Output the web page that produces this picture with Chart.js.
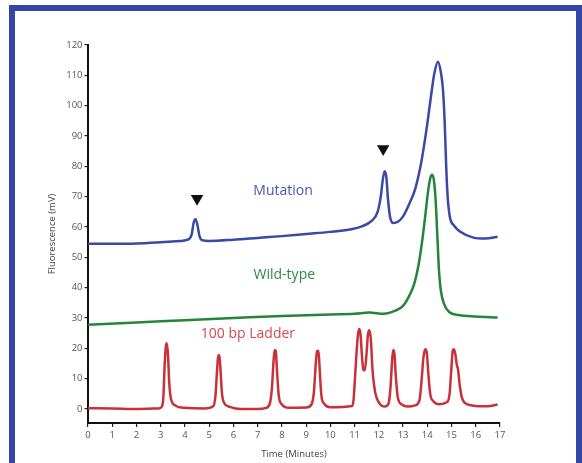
<!DOCTYPE html>
<html>
<head>
<meta charset="utf-8">
<script src="https://cdn.jsdelivr.net/npm/chart.js@4.4.1/dist/chart.umd.min.js"></script>
<style>
  html, body { margin: 0; padding: 0; background: #ffffff; }
  #frame { position: absolute; left: 9px; top: 5px; width: 561px; height: 480px; border: 6px solid #3346a6; background: #fff; }
  #c { position: absolute; left: 0; top: 0; }
</style>
</head>
<body>
<div id="frame"></div>
<canvas id="c" width="582" height="463"></canvas>
<script>
// ---- Data ----
const xTicks = [0,1,2,3,4,5,6,7,8,9,10,11,12,13,14,15,16,17];
const yTicks = [0,10,20,30,40,50,60,70,80,90,100,110,120];

const mutationTime   = [0,1,2,3,3.8,4.15,4.28,4.36,4.44,4.52,4.6,4.7,5,6,7,8,9,10,10.8,11.3,11.7,11.95,12.08,12.17,12.24,12.31,12.38,12.46,12.6,12.8,13.0,13.25,13.5,13.72,13.85,14.0,14.15,14.3,14.44,14.56,14.65,14.72,14.78,14.84,14.93,15.1,15.35,15.9,16.4,16.9];
const mutationSignal = [54.5,54.5,54.6,55,55.4,55.9,57.6,61.5,62.6,60.5,57,55.7,55.4,55.8,56.4,57,57.7,58.4,59.2,60.2,62,65,70,76,78.4,76.5,69,63.5,61.3,61.8,63.5,67.5,72.5,80,86,94,103,111,114.5,111,105,94,80,70,63.4,60.5,58.5,56.5,56.2,56.8];

const wildTime   = [0,2,4,6,8,10,11,11.6,12.2,12.7,13.0,13.2,13.45,13.65,13.8,13.92,14.02,14.12,14.2,14.28,14.35,14.42,14.48,14.56,14.7,14.9,15.3,16,16.9];
const wildSignal = [27.8,28.5,29.3,30,30.7,31.2,31.4,31.8,31.4,32.5,34,36.5,41,48,56,64,71,76,77.2,75,68,56,46,39,34.5,32,31,30.5,30.2];

const ladderTime   = [0,1,2,2.9,3.05,3.11,3.16,3.21,3.25,3.3,3.35,3.42,3.6,4,4.8,5.17,5.26,5.32,5.37,5.42,5.47,5.53,5.62,5.85,6.3,7,7.35,7.5,7.59,7.65,7.7,7.75,7.8,7.87,8,8.3,9,9.22,9.32,9.39,9.45,9.51,9.56,9.63,9.75,10,10.9,10.95,11.0,11.06,11.12,11.18,11.24,11.3,11.36,11.42,11.49,11.55,11.61,11.67,11.74,11.85,12.0,12.25,12.4,12.48,12.54,12.59,12.64,12.7,12.78,12.95,13.2,13.5,13.68,13.77,13.84,13.92,13.98,14.04,14.12,14.25,14.5,14.8,14.92,14.99,15.05,15.1,15.16,15.22,15.27,15.33,15.42,15.55,15.85,16.5,16.9];
const ladderSignal = [0.3,0.2,0,0.2,0.8,4,14,20.5,21.7,18,9,3.5,1.2,0.4,0.2,0.9,4.5,12,17.3,17.8,12.5,5,2,0.7,0,0,0.4,1.8,7,15,19.5,19,12.5,4.5,1.5,0.4,0.5,1.5,5.5,14,19,19.2,13,4.5,1.7,0.6,1,2.5,8,16,23,26.4,25,18,13,12.8,18,24.5,26,23,13,5.5,2.2,0.8,1.8,7,15,19.5,18.5,11,4,1.5,0.8,1.2,3,10,17,19.7,18.5,12,5,2.6,1.6,2.2,5,13,19.2,19.7,18,14.5,13,8.5,4,2,1.2,0.9,1.5];

const labelTexts  = ['Mutation', 'Wild-type', '100 bp Ladder'];
const labelX      = [8.05, 8.1, 6.6];
const labelY      = [70.5, 43, 23.5];
const arrowX      = [4.5, 12.18];
const arrowY      = [69.4, 85.8];

// ---- Build ----
const toXY = (xs, ys) => xs.map((x, i) => ({ x, y: ys[i] }));
const lineCommon = { pointRadius: 0, borderWidth: 2.5, cubicInterpolationMode: 'monotone', fill: false };
const labelColors = ['#4a56b0', '#2e8a45', '#d9474e'];

const labelPlugin = {
  id: 'seriesLabels',
  afterDatasetsDraw(chart) {
    const { ctx, scales: { x, y } } = chart;
    ctx.save();
    ctx.font = '14px "Open Sans", sans-serif';
    ctx.textAlign = 'center';
    ctx.textBaseline = 'alphabetic';
    labelTexts.forEach((t, i) => {
      ctx.fillStyle = labelColors[i];
      ctx.fillText(t, x.getPixelForValue(labelX[i]), y.getPixelForValue(labelY[i]));
    });
    ctx.restore();
  }
};

const tickFont = { family: '"Open Sans", sans-serif', size: 9.5 };

new Chart(document.getElementById('c'), {
  type: 'line',
  data: {
    datasets: [
      { ...lineCommon, label: 'Mutation', data: toXY(mutationTime, mutationSignal), borderColor: '#3a48a6' },
      { ...lineCommon, label: 'Wild-type', data: toXY(wildTime, wildSignal), borderColor: '#24853a' },
      { ...lineCommon, label: '100 bp Ladder', data: toXY(ladderTime, ladderSignal), borderColor: '#c8313a' },
      { type: 'scatter', label: 'markers', data: toXY(arrowX, arrowY), pointStyle: 'triangle', rotation: 180,
        pointRadius: 7.2, backgroundColor: '#111', borderColor: '#111', borderWidth: 0 }
    ]
  },
  options: {
    responsive: false,
    animation: false,
    events: [],
    layout: { padding: { left: 40, top: 45, right: 82, bottom: 0 } },
    plugins: { legend: { display: false }, tooltip: { enabled: false } },
    scales: {
      x: {
        type: 'linear', min: 0, max: 17,
        afterBuildTicks: s => { s.ticks = xTicks.map(v => ({ value: v })); },
        afterFit: s => { s.height = 40; },
        grid: { display: true, drawOnChartArea: false, drawTicks: true, tickLength: 4, color: '#222', lineWidth: 1.2 },
        border: { display: true, color: '#111', width: 2 },
        ticks: { color: '#555', font: tickFont, padding: 3, maxRotation: 0, autoSkip: false },
        title: { display: true, text: 'Time (Minutes)', color: '#444', font: { family: '"Open Sans", sans-serif', size: 9.5 }, padding: { top: 0, bottom: 3.5 } }
      },
      y: {
        type: 'linear', min: -4.6, max: 120,
        afterBuildTicks: s => { s.ticks = yTicks.map(v => ({ value: v })); },
        afterFit: s => { s.width = 48; },
        grid: { display: true, drawOnChartArea: false, drawTicks: true, tickLength: 3.5, color: '#222', lineWidth: 1.2 },
        border: { display: true, color: '#111', width: 2 },
        ticks: { color: '#555', font: tickFont, padding: 2, autoSkip: false },
        title: { display: true, text: 'Fluorescence (mV)', color: '#444', font: { family: '"Open Sans", sans-serif', size: 9.5 }, padding: { top: 7, bottom: 0 } }
      }
    }
  },
  plugins: [labelPlugin]
});
</script>
</body>
</html>
